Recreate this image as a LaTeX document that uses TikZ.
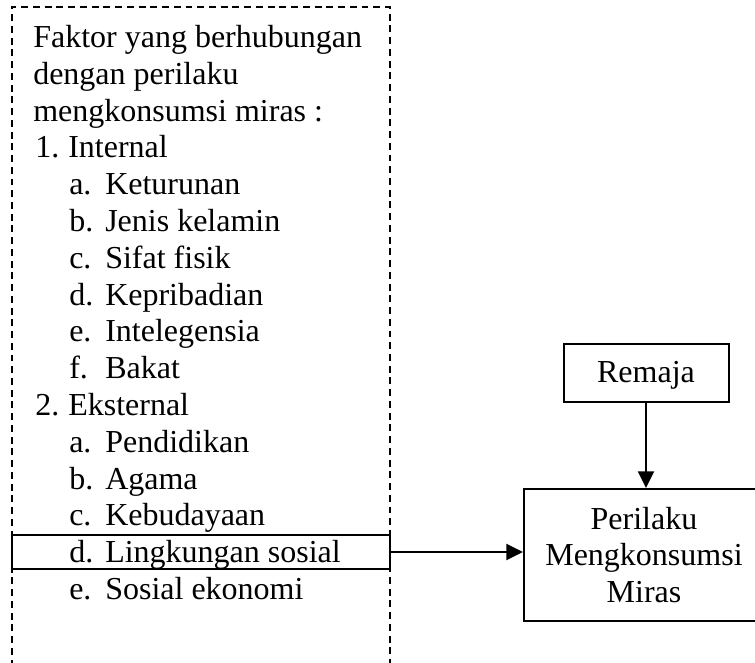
\documentclass[tikz,border=0pt]{standalone}
\usepackage{fontspec}
\setmainfont{Liberation Serif}
\usetikzlibrary{arrows.meta}
\begin{document}
\begin{tikzpicture}[x=0.75pt,y=-0.75pt,
  font=\fontsize{24}{27.6}\selectfont,
  txt/.style={anchor=base west, inner sep=0pt},
  box/.style={draw, line width=1.5pt, inner sep=0pt},
  arr/.style={line width=1.5pt, -{Triangle[length=12.5pt,width=12pt]}},
  dashbox/.style={line width=1.5pt, dash pattern=on 5.2pt off 3.6pt}]
\useasboundingbox (0,0) rectangle (755,662);
\clip (0,0) rectangle (755,662);
% open dashed frame (continues below the picture)
\draw[dashbox] (12,690) -- (12,7) -- (390,7) -- (390,690);
% heading lines
\node[txt] (h0) at (33,47.5) {Faktor yang berhubungan};
\node[txt] (h1) at (33,84.3) {dengan perilaku};
\node[txt] (h2) at (33,121.1) {mengkonsumsi miras :};
% main items
\node[txt] (n1) at (35,157.9) {1.};
\node[txt] (i1) at (68,157.9) {Internal};
\node[txt] (n2) at (35,415.5) {2.};
\node[txt] (i2) at (68,415.5) {Eksternal};
% sub items
\foreach \k/\lab/\txt in {4/a./Keturunan, 5/b./Jenis kelamin, 6/c./Sifat fisik,
  7/d./Kepribadian, 8/e./Intelegensia, 9/f./Bakat, 11/a./Pendidikan,
  12/b./Agama, 13/c./Kebudayaan, 14/d./Lingkungan sosial, 15/e./Sosial ekonomi}{
  \node[txt] (m\k) at (69,47.5+36.8*\k) {\lab};
  \node[txt] (t\k) at (105,47.5+36.8*\k) {\txt};
}
% highlighted row box
\node[box, minimum width=283.5pt, minimum height=25.5pt] (lingk) at (201,552) {};
% right side
\node[box, minimum width=123.75pt, minimum height=43.5pt, text depth=2pt] (remaja) at (646,373) {Remaja};
\node[box, minimum width=180pt, minimum height=99pt, align=center] (peri) at (644,555)
  {Perilaku\\Mengkonsumsi\\Miras};
\draw[arr] (remaja.south) -- (remaja.south |- peri.north);
\draw[arr] (lingk.east) -- (lingk.east -| peri.west);
\end{tikzpicture}
\end{document}
